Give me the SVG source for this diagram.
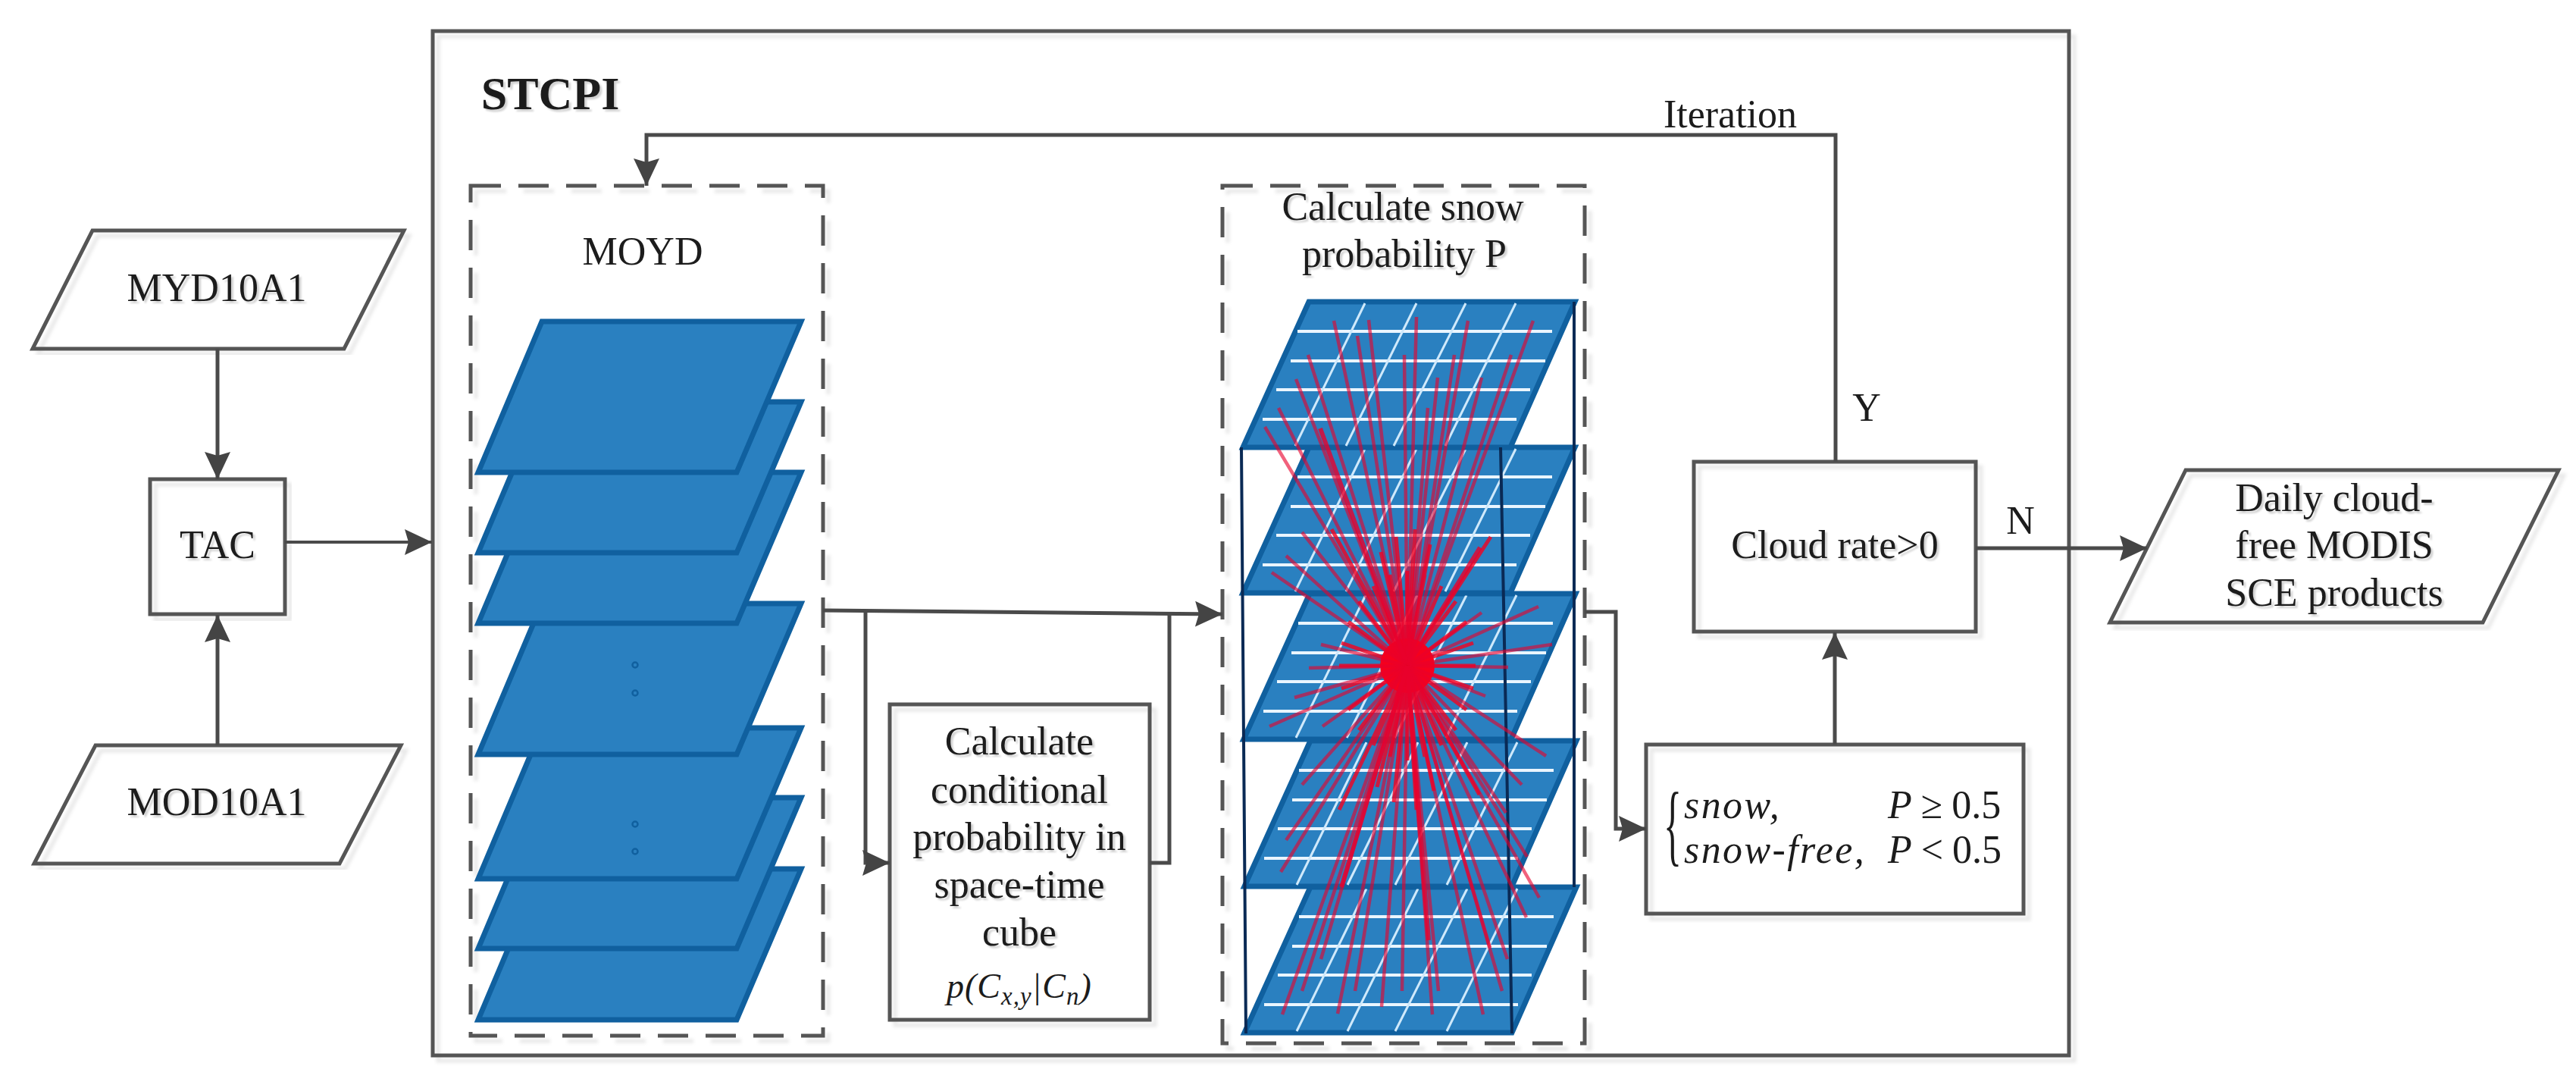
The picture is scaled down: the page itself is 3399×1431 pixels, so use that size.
<svg xmlns="http://www.w3.org/2000/svg" width="3399" height="1431" viewBox="0 0 3399 1431">
<style>
text{font-family:"Liberation Serif","Times New Roman",serif;font-size:52px;fill:#1c1c1c;text-anchor:middle}
.bx{fill:none;stroke:#555;stroke-width:5;filter:url(#sh)}
.dash{fill:none;stroke:#555;stroke-width:5;stroke-dasharray:40 23;filter:url(#sh)}
.c{fill:none;stroke:#4a4a4a;stroke-width:5;marker-end:url(#ah)}
.n{fill:none;stroke:#4a4a4a;stroke-width:5}
.b{fill:#2a80c0;stroke:#10609f;stroke-width:7;stroke-linejoin:miter}
.h{stroke:#eaf5ff;stroke-width:4}
.s{stroke:#cfe9fb;stroke-width:3}
.k{stroke:#0a2a55;stroke-width:4;fill:none}
.r line{stroke:#e8002c;stroke-width:4.5;stroke-opacity:.62}
.r line.t{stroke-width:6;stroke-opacity:.8}
.hub{fill:none;stroke:#f5001e;stroke-width:5;stroke-opacity:.8}
.d{fill:none;stroke:#10609f;stroke-width:2.5}
.m{font-style:italic;text-anchor:start}
.u{text-anchor:start}
.ts{filter:url(#tsh)}
</style>
<defs>
<filter id="sh" x="-5%" y="-5%" width="110%" height="110%"><feDropShadow dx="7" dy="7" stdDeviation="2" flood-color="#000" flood-opacity=".09"/></filter>
<filter id="tsh" x="-5%" y="-5%" width="110%" height="120%"><feDropShadow dx="3" dy="3" stdDeviation="1.2" flood-color="#000" flood-opacity=".18"/></filter>
<marker id="ah" markerUnits="userSpaceOnUse" markerWidth="37" markerHeight="36" viewBox="0 0 37 36" refX="36" refY="18" orient="auto"><path d="M0,1 L36,18 L0,35 L5,18 Z" fill="#444"/></marker>
<polygon id="pl" class="b" points="715,424 1057,424 972,623 631,623"/>
<g id="sl">
<polygon class="b" points="1727,398 2078,398 1993,590 1640,590"/>
<path class="h" d="M1712,437H2048M1703,476H2039M1684,514H2019M1666,553H2001"/>
<path class="s" d="M1801,400L1709,588M1869,400L1776,588M1934,400L1839,588M2000,400L1907,588"/>
</g>
</defs>
<rect width="3399" height="1431" fill="#fff"/>
<g id="stcpi"><rect class="bx" x="571" y="41" width="2159" height="1351"/><text class="ts" x="726" y="144" style="font-size:62px;font-weight:bold">STCPI</text></g>
<g id="myd10a1"><polygon class="bx" points="122,304 533,304 454,460 43,460"/><text class="ts" x="286" y="397">MYD10A1</text></g>
<g id="tac"><rect class="bx" x="198" y="632" width="178" height="178"/><text class="ts" x="287" y="736">TAC</text></g>
<g id="mod10a1"><polygon class="bx" points="126,983 529,983 448,1139 45,1139"/><text class="ts" x="286" y="1075">MOD10A1</text></g>
<g id="moyd">
<rect class="dash" x="621" y="245" width="465" height="1121"/>
<text x="848" y="349">MOYD</text>
<use href="#pl" y="722"/><use href="#pl" y="628"/><use href="#pl" y="536"/><use href="#pl" y="372"/><use href="#pl" y="199"/><use href="#pl" y="106"/><use href="#pl"/>
<circle class="d" cx="838" cy="877" r="3.5"/><circle class="d" cx="838" cy="914" r="3.5"/><circle class="d" cx="838" cy="1087" r="3.5"/><circle class="d" cx="838" cy="1123" r="3.5"/>
</g>
<g id="calc-cond">
<rect class="bx" x="1174" y="929" width="343" height="416"/>
<g class="ts"><text x="1345" y="995">Calculate</text><text x="1345" y="1059">conditional</text><text x="1345" y="1121">probability in</text><text x="1345" y="1184">space-time</text><text x="1345" y="1247">cube</text></g>
<text x="1249" y="1316" class="m" style="font-size:46px;letter-spacing:1px">p(C<tspan dy="9" style="font-size:33px">x,y</tspan><tspan dy="-9">|C</tspan><tspan dy="9" style="font-size:33px">n</tspan><tspan dy="-9">)</tspan></text>
</g>
<g id="snow-prob">
<rect class="dash" x="1613" y="245" width="478" height="1131"/>
<g class="ts"><text x="1851" y="290">Calculate snow</text><text x="1853" y="352">probability P</text></g>
<use href="#sl" y="772" x="2"/><use href="#sl" y="579" x="2"/><use href="#sl" y="385" x="1"/><use href="#sl" y="192"/><use href="#sl"/>
<path class="k" d="M2077,398V1170M1638,590L1644,1363M1980,590L1995,1363"/>
<g class="r">
<circle cx="1857" cy="878" r="36" fill="#f5001e"/>
<path class="hub" d="M1857,878l90,0M1857,878l87,30M1857,878l78,58M1857,878l64,85M1857,878l45,105M1857,878l23,120M1857,878l0,125M1857,878l-23,120M1857,878l-45,105M1857,878l-64,85M1857,878l-78,58M1857,878l-87,30M1857,878l-90,0M1857,878l-87,-30M1857,878l-78,-58M1857,878l-64,-85M1857,878l-45,-105M1857,878l-23,-120M1857,878l0,-125M1857,878l23,-120M1857,878l45,-105M1857,878l64,-85M1857,878l78,-58M1857,878l87,-30M1857,878l10,-180M1857,878l-15,-170M1857,878l30,-160M1857,878l-35,-150M1857,878l12,190M1857,878l-18,180M1857,878l35,165M1857,878l-40,160M1857,878l-100,-180M1857,878l110,-170M1857,878l-90,190M1857,878l95,170"/>
<line x1="1857" y1="878" x2="1760" y2="423"/><line x1="1857" y1="878" x2="1791" y2="443"/><line x1="1857" y1="878" x2="1806" y2="422"/><line x1="1857" y1="878" x2="1869" y2="418"/><line x1="1857" y1="878" x2="1853" y2="468"/><line x1="1857" y1="878" x2="1726" y2="468"/><line x1="1857" y1="878" x2="1710" y2="500"/><line x1="1857" y1="878" x2="1687" y2="538"/><line x1="1857" y1="878" x2="1669" y2="563"/><line x1="1857" y1="878" x2="1937" y2="423"/><line x1="1857" y1="878" x2="1919" y2="468"/><line x1="1857" y1="878" x2="1897" y2="498"/><line x1="1857" y1="878" x2="1884" y2="538"/><line x1="1857" y1="878" x2="1955" y2="498"/><line x1="1857" y1="878" x2="1994" y2="468"/><line x1="1857" y1="878" x2="2023" y2="423"/>
<line class="t" x1="1857" y1="878" x2="1742" y2="565"/><line class="t" x1="1857" y1="878" x2="1953" y2="722"/>
<line x1="1857" y1="878" x2="1718" y2="702"/><line x1="1857" y1="878" x2="1697" y2="733"/><line x1="1857" y1="878" x2="1678" y2="755"/><line x1="1857" y1="878" x2="1743" y2="850"/><line x1="1857" y1="878" x2="1727" y2="881"/><line x1="1857" y1="878" x2="1708" y2="920"/><line x1="1857" y1="878" x2="1675" y2="958"/><line x1="1857" y1="878" x2="1745" y2="958"/><line x1="1857" y1="878" x2="1718" y2="1035"/><line x1="1857" y1="878" x2="1697" y2="1108"/><line x1="1857" y1="878" x2="1690" y2="1150"/>
<line x1="1857" y1="878" x2="1955" y2="808"/><line x1="1857" y1="878" x2="1960" y2="918"/><line x1="1857" y1="878" x2="1990" y2="880"/><line x1="1857" y1="878" x2="2040" y2="997"/><line x1="1857" y1="878" x2="2008" y2="1035"/><line x1="1857" y1="878" x2="1987" y2="1072"/><line x1="1857" y1="878" x2="2030" y2="800"/><line x1="1857" y1="878" x2="2048" y2="850"/><line x1="1857" y1="878" x2="2015" y2="1130"/><line x1="1857" y1="878" x2="2031" y2="1184"/>
<line x1="1857" y1="878" x2="1692" y2="1338"/><line x1="1857" y1="878" x2="1718" y2="1307"/><line x1="1857" y1="878" x2="1743" y2="1265"/><line x1="1857" y1="878" x2="1765" y2="1337"/><line x1="1857" y1="878" x2="1788" y2="1307"/><line x1="1857" y1="878" x2="1823" y2="1328"/><line x1="1857" y1="878" x2="1850" y2="1307"/><line x1="1857" y1="878" x2="1890" y2="1338"/><line x1="1857" y1="878" x2="1898" y2="1307"/><line x1="1857" y1="878" x2="1957" y2="1338"/><line x1="1857" y1="878" x2="1982" y2="1307"/><line x1="1857" y1="878" x2="2014" y2="1210"/><line x1="1857" y1="878" x2="1989" y2="1265"/><line x1="1857" y1="878" x2="1966" y2="1250"/>
<line class="t" x1="1857" y1="878" x2="1885" y2="1240"/><line class="t" x1="1857" y1="878" x2="1770" y2="1170"/>
</g>
</g>
<g id="threshold">
<rect class="bx" x="2172" y="982" width="498" height="223"/>
<text x="2195" y="1127" transform="translate(2195,1127) scale(.5,1.18) translate(-2195,-1127)" class="u" style="font-size:100px">{</text>
<text x="2222" y="1079" class="m" style="letter-spacing:2.4px">snow,</text>
<text x="2222" y="1138" class="m" style="letter-spacing:2.4px">snow-free,</text>
<text x="2491" y="1079" class="m">P<tspan dx="12" style="font-style:normal">≥</tspan><tspan dx="12" style="font-style:normal">0.5</tspan></text>
<text x="2491" y="1138" class="m">P<tspan dx="12" style="font-style:normal">&lt;</tspan><tspan dx="12" style="font-style:normal">0.5</tspan></text>
</g>
<g id="cloud-rate"><rect class="bx" x="2235" y="609" width="372" height="224"/><text class="ts" x="2421" y="736">Cloud rate&gt;0</text></g>
<g id="output"><polygon class="bx" points="2884,620 3376,620 3276,821 2784,821"/><g class="ts"><text x="3080" y="674">Daily cloud-</text><text x="3080" y="736">free MODIS</text><text x="3080" y="799">SCE products</text></g></g>
<g id="connectors">
<path class="c" d="M287,460V632"/>
<path class="c" d="M287,983V811"/>
<path class="c" style="stroke-width:4" d="M376,715H570"/>
<path class="c" d="M1086,805L1613,810"/>
<path class="c" d="M1142,805V1138H1174"/>
<path class="n" d="M1517,1138H1543V809"/>
<path class="c" d="M2091,807H2132V1093H2172"/>
<path class="c" d="M2421,982V834"/>
<path class="c" d="M2422,609V178H853V245"/>
<path class="c" d="M2607,723H2833"/>
</g>
<g id="labels">
<text x="2283" y="168">Iteration</text>
<text x="2463" y="555">Y</text>
<text x="2666" y="704">N</text>
</g>
</svg>
